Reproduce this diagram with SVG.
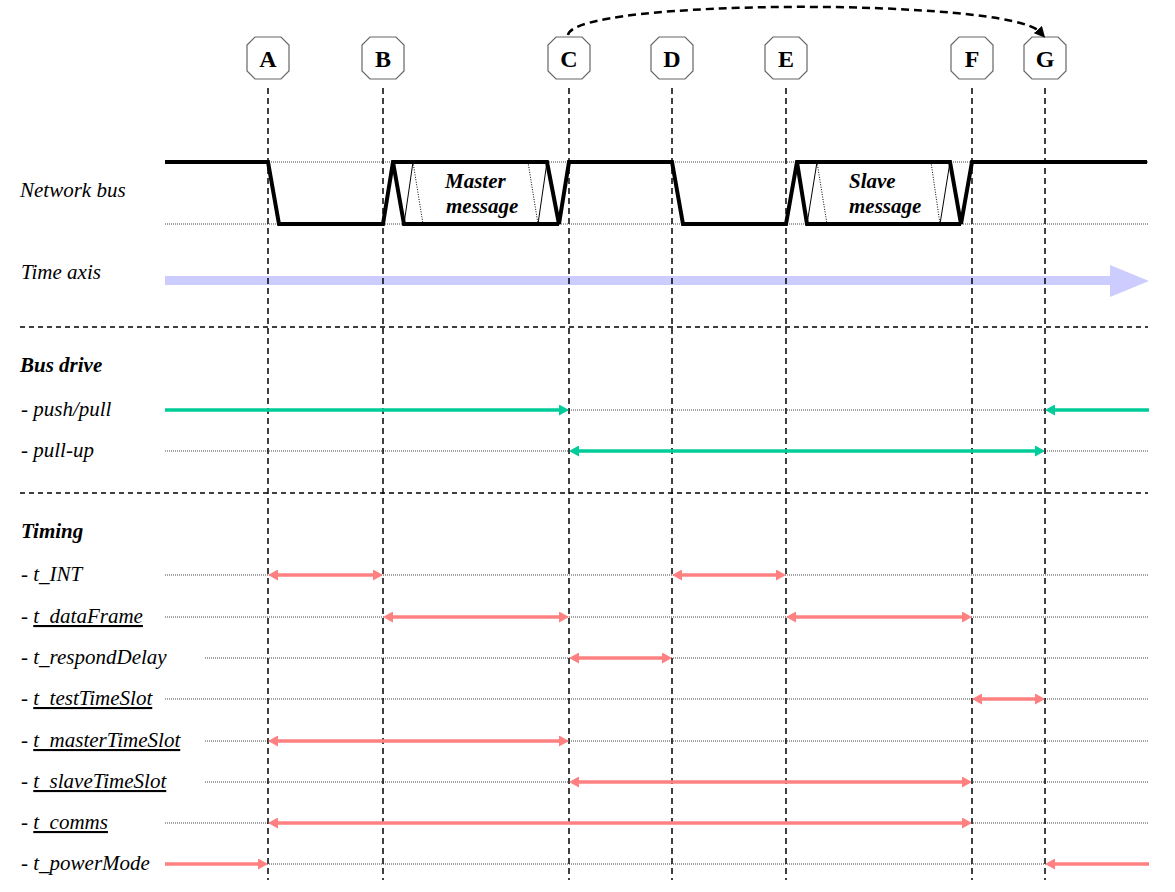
<svg xmlns="http://www.w3.org/2000/svg" width="1175" height="892" viewBox="0 0 1175 892">
<style>
.lbl{font-family:"Liberation Serif","Times New Roman",serif;font-style:italic;font-size:21px;fill:#000}
.hdr{font-family:"Liberation Serif","Times New Roman",serif;font-style:italic;font-weight:bold;font-size:21px;fill:#000}
.msg{font-family:"Liberation Serif","Times New Roman",serif;font-style:italic;font-weight:bold;font-size:21px;fill:#000}
.key{font-family:"Liberation Serif","Times New Roman",serif;font-weight:bold;font-size:24px;fill:#000;text-anchor:middle}
.oct{fill:#fff;stroke:#666;stroke-width:1.2}
.u{text-decoration:underline}
.dot{stroke:#444;stroke-width:1;stroke-dasharray:1 1;fill:none}
.vdash{stroke:#000;stroke-width:1.5;stroke-dasharray:6 4;fill:none}
.sep{stroke:#000;stroke-width:1.5;stroke-dasharray:5 4;fill:none}
.bus{stroke:#000;stroke-width:4;fill:none;stroke-linejoin:miter}
.thin{stroke:#000;stroke-width:1;fill:none}
.thindot{stroke:#000;stroke-width:1;stroke-dasharray:1 1.5;fill:none}
.g{stroke:#00cc99;stroke-width:3.5;fill:none}
.r{stroke:#ff8080;stroke-width:3.5;fill:none}
.gs{marker-start:url(#ahg)}.ge{marker-end:url(#ahg)}
.rs{marker-start:url(#ahr)}.re{marker-end:url(#ahr)}
</style>
<defs>
<marker id="ahg" viewBox="0 0 10 11" refX="2" refY="5.5" markerWidth="10" markerHeight="11" markerUnits="userSpaceOnUse" orient="auto-start-reverse"><path d="M0,0L10,5.5L0,11z" fill="#00cc99"/></marker>
<marker id="ahr" viewBox="0 0 10 11" refX="2" refY="5.5" markerWidth="10" markerHeight="11" markerUnits="userSpaceOnUse" orient="auto-start-reverse"><path d="M0,0L10,5.5L0,11z" fill="#ff8080"/></marker>
<marker id="ahk" viewBox="0 0 10 10" refX="3" refY="5" markerWidth="11" markerHeight="11" markerUnits="userSpaceOnUse" orient="auto"><path d="M0,0L10,5L0,10z" fill="#000"/></marker>
<polygon id="octa" points="-13,-21 13,-21 21,-13 21,13 13,21 -13,21 -21,13 -21,-13"/>
</defs>
<rect width="1175" height="892" fill="#fff"/>

<!-- separators -->
<g id="separators">
<line class="sep" x1="20" y1="327" x2="1148" y2="327"/>
<line class="sep" x1="20" y1="493" x2="1148" y2="493"/>
</g>

<!-- dotted reference lines -->
<g id="gridlines">
<line class="dot" x1="165" y1="162" x2="1148" y2="162"/>
<line class="dot" x1="165" y1="224" x2="1148" y2="224"/>
<line class="dot" x1="165" y1="410" x2="1148" y2="410"/>
<line class="dot" x1="165" y1="451" x2="1148" y2="451"/>
<line class="dot" x1="165" y1="575" x2="1148" y2="575"/>
<line class="dot" x1="165" y1="617" x2="1148" y2="617"/>
<line class="dot" x1="205" y1="658" x2="1148" y2="658"/>
<line class="dot" x1="165" y1="699" x2="1148" y2="699"/>
<line class="dot" x1="205" y1="741" x2="1148" y2="741"/>
<line class="dot" x1="205" y1="782" x2="1148" y2="782"/>
<line class="dot" x1="165" y1="823" x2="1148" y2="823"/>
<line class="dot" x1="165" y1="864" x2="1148" y2="864"/>
</g>

<!-- time axis -->
<g id="time-axis">
<path d="M165,276 H1110 V265 L1149,281 L1110,297 V285 H165 Z" fill="#ccccff"/>
</g>

<!-- event markers -->
<g id="marker-A"><line class="vdash" x1="268" y1="88" x2="268" y2="880"/><use href="#octa" class="oct" x="268" y="58"/><text class="key" x="268" y="67">A</text></g>
<g id="marker-B"><line class="vdash" x1="383" y1="88" x2="383" y2="880"/><use href="#octa" class="oct" x="383" y="58"/><text class="key" x="383" y="67">B</text></g>
<g id="marker-C"><line class="vdash" x1="569" y1="88" x2="569" y2="880"/><use href="#octa" class="oct" x="569" y="58"/><text class="key" x="569" y="67">C</text></g>
<g id="marker-D"><line class="vdash" x1="672" y1="88" x2="672" y2="880"/><use href="#octa" class="oct" x="672" y="58"/><text class="key" x="672" y="67">D</text></g>
<g id="marker-E"><line class="vdash" x1="786" y1="88" x2="786" y2="880"/><use href="#octa" class="oct" x="786" y="58"/><text class="key" x="786" y="67">E</text></g>
<g id="marker-F"><line class="vdash" x1="972" y1="88" x2="972" y2="880"/><use href="#octa" class="oct" x="972" y="58"/><text class="key" x="972" y="67">F</text></g>
<g id="marker-G"><line class="vdash" x1="1045" y1="88" x2="1045" y2="880"/><use href="#octa" class="oct" x="1045" y="58"/><text class="key" x="1045" y="67">G</text></g>

<!-- network bus waveform -->
<g id="network-bus">
<path class="bus" d="M165,162 H268 L279,224 H383 L393,162 H547 L559,224 L569,162 H672 L683,224 H786 L797,162 H950 L961,224 L972,162 H1147"/>
<path class="bus" d="M393,162 L404,224 H559"/>
<path class="bus" d="M797,162 L807,224 H961"/>
<path class="thin" d="M404,224 L413,162 M538,224 L547,162 M807,224 L817,162 M940,224 L950,162"/>
<path class="thindot" d="M413,162 L423,224 M528,162 L538,224 M817,162 L827,224 M931,162 L940,224"/>
<text class="msg" x="445" y="188">Master</text>
<text class="msg" x="446" y="213">message</text>
<text class="msg" x="849" y="188">Slave</text>
<text class="msg" x="849" y="213">message</text>
</g>

<!-- labels -->
<g id="labels">
<text class="lbl" x="20" y="197">Network bus</text>
<text class="lbl" x="21" y="279">Time axis</text>
<text class="hdr" x="20" y="372">Bus drive</text>
<text class="lbl" x="21" y="416">- push/pull</text>
<text class="lbl" x="21" y="457">- pull-up</text>
<text class="hdr" x="21" y="538">Timing</text>
<text class="lbl" x="21" y="581">- t_INT</text>
<text class="lbl" x="21" y="623">- <tspan class="u">t_dataFrame</tspan></text>
<text class="lbl" x="21" y="664">- t_respondDelay</text>
<text class="lbl" x="21" y="705">- <tspan class="u">t_testTimeSlot</tspan></text>
<text class="lbl" x="21" y="747">- <tspan class="u">t_masterTimeSlot</tspan></text>
<text class="lbl" x="21" y="788">- <tspan class="u">t_slaveTimeSlot</tspan></text>
<text class="lbl" x="21" y="829">- <tspan class="u">t_comms</tspan></text>
<text class="lbl" x="21" y="870">- t_powerMode</text>
</g>

<!-- connectors -->
<g id="connectors">
<path d="M568,35 C574,-2 1010,-2 1040,32" stroke="#000" stroke-width="2.5" stroke-dasharray="8 5" fill="none" marker-end="url(#ahk)"/>
<line class="g ge" x1="165" y1="410" x2="561" y2="410"/>
<line class="g ge" x1="1149" y1="410" x2="1053" y2="410"/>
<line class="g gs ge" x1="577" y1="451" x2="1037" y2="451"/>
<line class="r rs re" x1="276" y1="575" x2="375" y2="575"/>
<line class="r rs re" x1="680" y1="575" x2="778" y2="575"/>
<line class="r rs re" x1="391" y1="617" x2="561" y2="617"/>
<line class="r rs re" x1="794" y1="617" x2="964" y2="617"/>
<line class="r rs re" x1="577" y1="658" x2="664" y2="658"/>
<line class="r rs re" x1="980" y1="699" x2="1037" y2="699"/>
<line class="r rs re" x1="276" y1="741" x2="561" y2="741"/>
<line class="r rs re" x1="577" y1="782" x2="964" y2="782"/>
<line class="r rs re" x1="276" y1="823" x2="964" y2="823"/>
<line class="r re" x1="165" y1="864" x2="260" y2="864"/>
<line class="r re" x1="1149" y1="864" x2="1053" y2="864"/>
</g>
</svg>
